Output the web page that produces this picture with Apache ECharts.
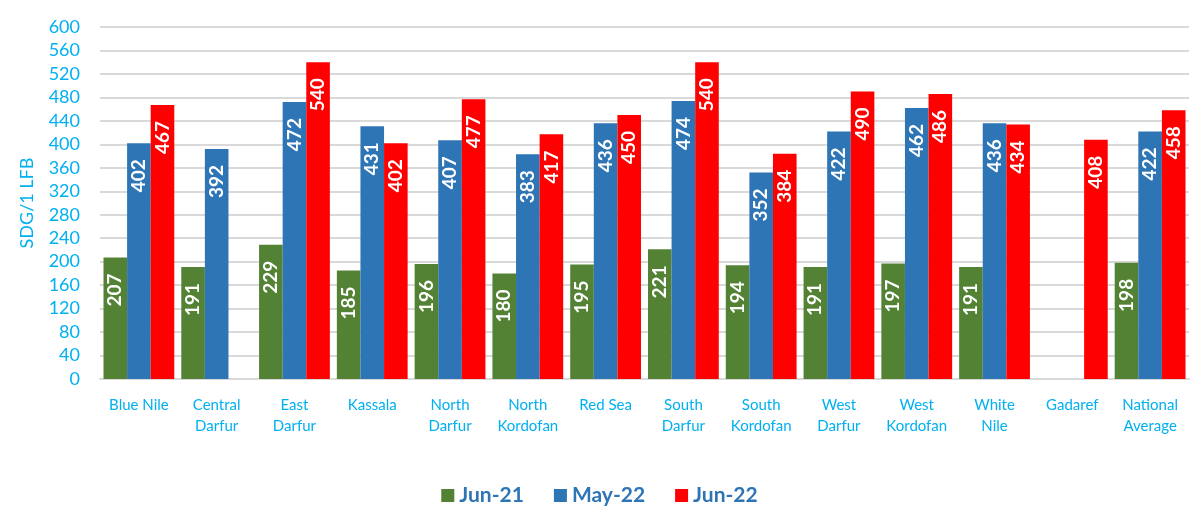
<!DOCTYPE html>
<html>
<head>
<meta charset="utf-8">
<script src="https://cdn.jsdelivr.net/npm/echarts@6/dist/echarts.min.js"></script>
<style>
  html, body { margin: 0; padding: 0; background: #fff; }
  #main { width: 1199px; height: 519px; }
</style>
</head>
<body>
<div id="main"></div>
<script>
// categories (two-line labels as in the source)
const states = [
  'Blue Nile', 'Central\nDarfur', 'East\nDarfur', 'Kassala', 'North\nDarfur',
  'North\nKordofan', 'Red Sea', 'South\nDarfur', 'South\nKordofan', 'West\nDarfur',
  'West\nKordofan', 'White\nNile', 'Gadaref', 'National\nAverage'
]
const seriesNames = ['Jun-21', 'May-22', 'Jun-22']
const jun21 = [207, 191, 229, 185, 196, 180, 195, 221, 194, 191, 197, 191, null, 198]
const may22 = [402, 392, 472, 431, 407, 383, 436, 474, 352, 422, 462, 436, null, 422]
const jun22 = [467, null, 540, 402, 477, 417, 450, 540, 384, 490, 486, 434, 408, 458]

const colors = ['#548235', '#2E75B6', '#FF0000']
const axisBlue = '#00B0F0'
const font = 'Lato, "Open Sans", sans-serif'

const chart = echarts.init(document.getElementById('main'))

// label inside bar, rotated, near the top
const labelOption = {
  show: true,
  position: 'insideTop',
  distance: 16,
  rotate: 90,
  align: 'right',
  verticalAlign: 'middle',
  color: '#fff',
  fontWeight: 'bold',
  fontSize: 19,
  fontFamily: font
}

const makeSeries = (name, data, i) => ({
  name: name,
  type: 'bar',
  barGap: 0,
  barCategoryGap: '9%',
  itemStyle: { color: colors[i] },
  label: labelOption,
  data: data
})

chart.setOption({
  animation: false,
  textStyle: { fontFamily: font },
  grid: { left: 100, right: 10, top: 27, bottom: 140 },
  legend: {
    bottom: 8,
    left: 'center',
    itemWidth: 13,
    itemHeight: 13,
    itemGap: 30,
    icon: 'rect',
    textStyle: { color: '#2E75B6', fontSize: 21, fontWeight: 'bold', fontFamily: font },
    data: seriesNames
  },
  xAxis: {
    type: 'category',
    data: states,
    axisTick: { show: false },
    axisLine: { lineStyle: { color: '#D9D9D9', width: 2 } },
    axisLabel: {
      color: axisBlue,
      fontSize: 15,
      lineHeight: 21,
      margin: 16,
      interval: 0,
      fontFamily: font
    }
  },
  yAxis: {
    type: 'value',
    min: 0,
    max: 600,
    interval: 40,
    name: 'SDG/1 LFB',
    nameLocation: 'middle',
    nameGap: 64,
    nameRotate: 90,
    nameTextStyle: { color: axisBlue, fontSize: 18, fontFamily: font },
    axisLine: { show: false },
    axisTick: { show: false },
    axisLabel: { color: axisBlue, fontSize: 18, margin: 20, fontFamily: font },
    splitLine: { lineStyle: { color: '#D9D9D9', width: 2 } }
  },
  series: [
    makeSeries(seriesNames[0], jun21, 0),
    makeSeries(seriesNames[1], may22, 1),
    makeSeries(seriesNames[2], jun22, 2)
  ]
})
</script>
</body>
</html>
